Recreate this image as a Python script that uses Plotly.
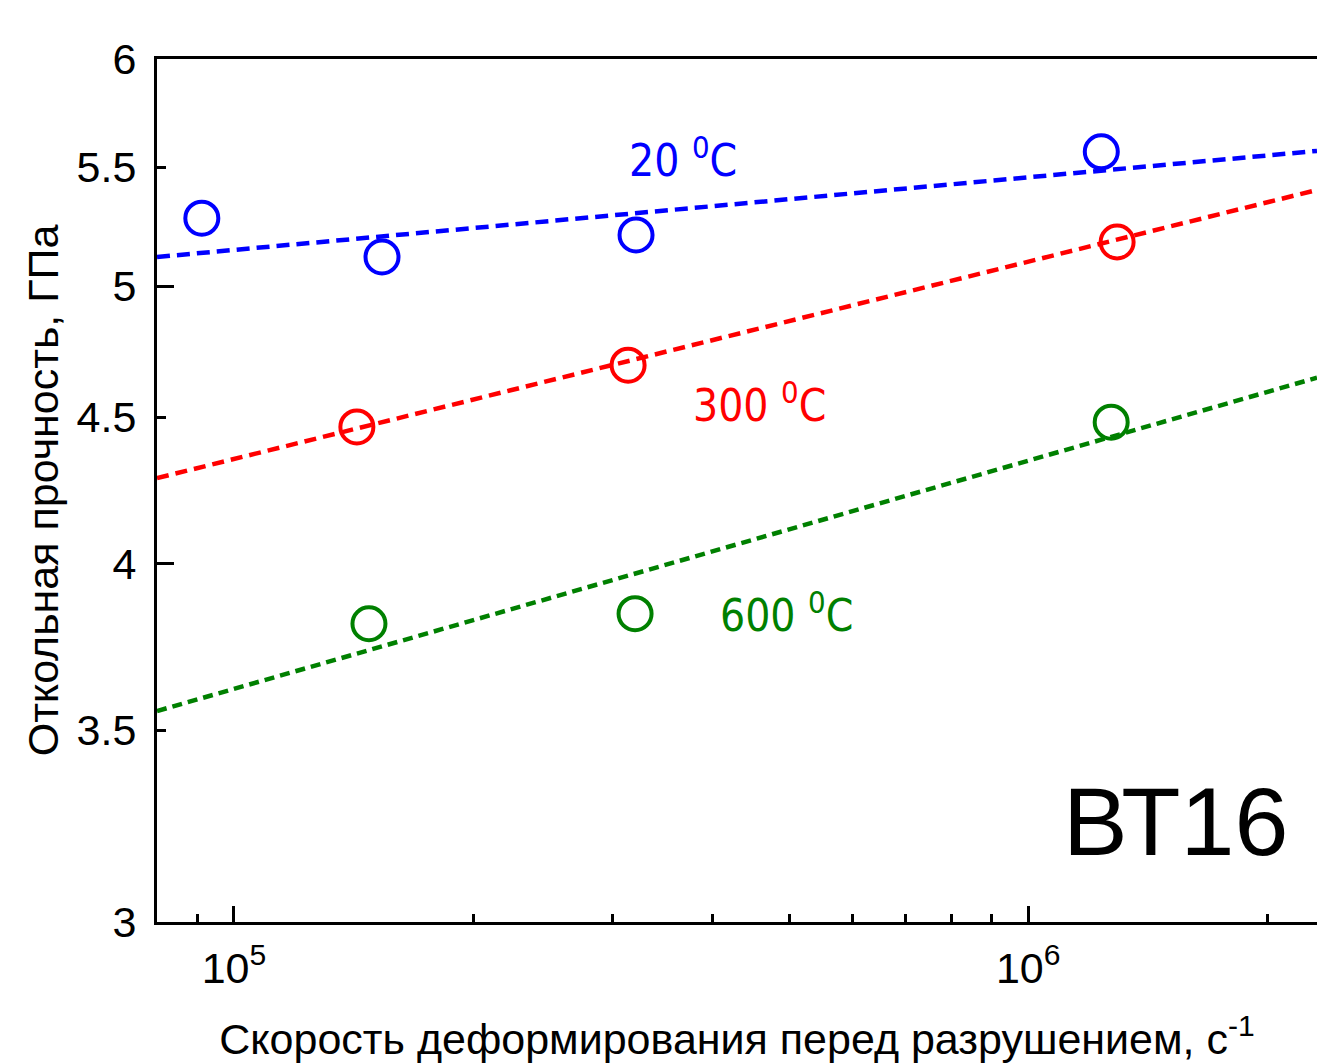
import math
import plotly.graph_objects as go

# Strain rate before fracture (1/s) and spall strength (GPa) for VT16
rate_20 = [9.11e4, 1.536e5, 3.208e5, 1.236e6]
spall_20 = [5.28, 5.118, 5.209, 5.569]

rate_300 = [1.428e5, 3.135e5, 1.294e6]
spall_300 = [4.465, 4.692, 5.180]

rate_600 = [1.479e5, 3.199e5, 1.272e6]
spall_600 = [3.812, 3.843, 4.482]

# Power-law fit lines (end points across the axis range)
fit_rate = [8.0e4, 2.31e6]
fit_20 = [5.118, 5.573]
fit_300 = [4.285, 5.401]
fit_600 = [3.554, 4.645]

y_ticks = [3, 3.5, 4, 4.5, 5, 5.5, 6]
y_major = [3, 4, 5, 6]
x_major = [1e5, 1e6]
x_major_text = ["10<sup>5</sup>", "10<sup>6</sup>"]
x_minor = [9e4, 2e5, 3e5, 4e5, 5e5, 6e5, 7e5, 8e5, 9e5, 2e6]

BLUE = "#0000ff"
RED = "#ff0000"
GREEN = "#008000"
FONT = "Liberation Sans, Arial, sans-serif"
NARROW = "Liberation Sans Narrow, Arial Narrow, DejaVu Sans Condensed, sans-serif"

fig = go.Figure()


def add_series(rates, vals, fit_vals, color, dash):
    fig.add_trace(go.Scatter(
        x=fit_rate, y=fit_vals, mode="lines",
        line=dict(color=color, width=4.5, dash=dash),
        showlegend=False, hoverinfo="skip",
    ))
    fig.add_trace(go.Scatter(
        x=rates, y=vals, mode="markers",
        marker=dict(symbol="circle-open", size=33, color=color,
                    line=dict(width=4, color=color)),
        showlegend=False,
    ))


add_series(rate_20, spall_20, fit_20, BLUE, "13px,7px")
add_series(rate_300, spall_300, fit_300, RED, "12px,7px")
add_series(rate_600, spall_600, fit_600, GREEN, "10px,6px")

x_range = [math.log10(8.0e4), math.log10(2.31e6)]
y_range = [math.log10(3), math.log10(6)]

fig.update_layout(
    width=1317, height=1063,
    margin=dict(l=157, r=0, t=59, b=141),
    paper_bgcolor="white", plot_bgcolor="white",
    font=dict(family=FONT, color="black", size=43),
    xaxis=dict(
        type="log", range=x_range, domain=[0, 1],
        tickvals=x_major, ticktext=x_major_text,
        ticks="inside", ticklen=16, tickwidth=3,
        tickcolor="black", showline=True, linecolor="black", linewidth=3,
        mirror=True, showgrid=False, zeroline=False,
        tickfont=dict(size=43), ticklabelstandoff=6,
        minor=dict(tickvals=x_minor, ticks="inside", ticklen=8,
                   tickwidth=2.5, tickcolor="black", showgrid=False),
        title=dict(text="Скорость деформирования перед разрушением, с<sup>-1</sup>",
                   font=dict(size=43), standoff=36),
    ),
    yaxis=dict(
        type="log", range=y_range,
        tickvals=y_ticks, ticktext=[str(v) for v in y_ticks],
        ticks="inside", ticklen=9, tickwidth=3, tickcolor="black",
        showline=True, linecolor="black", linewidth=3,
        showgrid=False, zeroline=False,
        tickfont=dict(size=43), ticklabelstandoff=9,
        title=dict(text="Откольная прочность, ГПа", font=dict(size=43), standoff=5),
    ),
    yaxis2=dict(
        type="log", range=y_range, overlaying="y", side="left",
        tickvals=y_major, showticklabels=False,
        ticks="inside", ticklen=17, tickwidth=3, tickcolor="black",
        showline=False, showgrid=False, zeroline=False,
    ),
)

# marker-less trace that carries the long major-tick axis
fig.add_trace(go.Scatter(x=[fit_rate[0]], y=[fit_20[0]], yaxis="y2",
                         mode="markers", marker=dict(opacity=0),
                         showlegend=False, hoverinfo="skip"))


def label(text, x, y, color, size, family=NARROW):
    fig.add_annotation(text=text, xref="paper", yref="paper", x=x, y=y,
                       xanchor="center", yanchor="middle", showarrow=False,
                       font=dict(family=family, size=size, color=color))


label("20 <sup>0</sup>C", 0.4534, 0.8864, BLUE, 44)
label("300 <sup>0</sup>C", 0.5198, 0.6014, RED, 44)
label("600 <sup>0</sup>C", 0.5431, 0.3592, GREEN, 44)
label("ВТ16", 0.8776, 0.1159, "black", 97, FONT)

fig.write_html("out.html")
